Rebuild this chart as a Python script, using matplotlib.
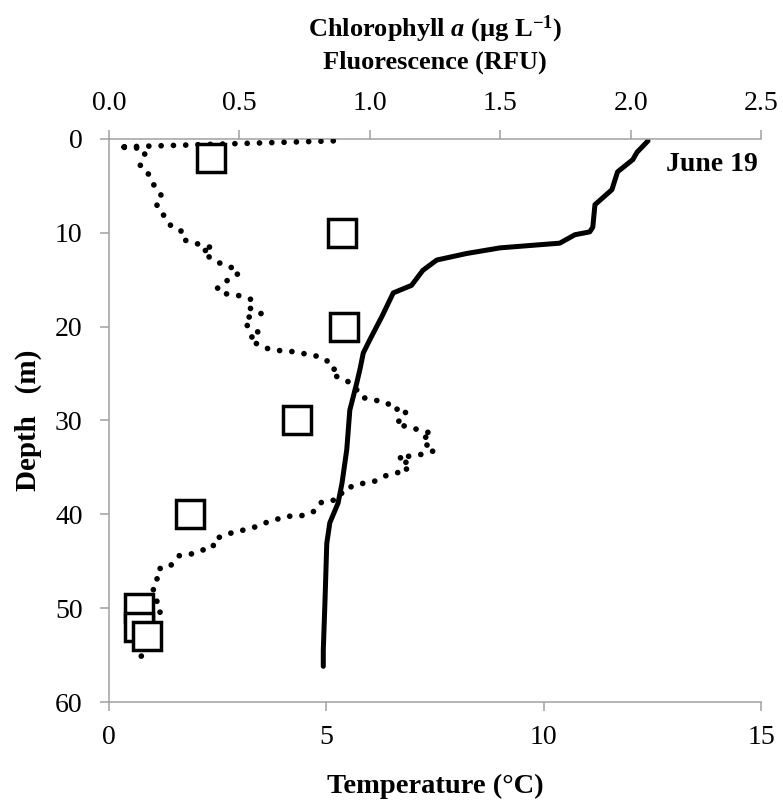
import matplotlib
matplotlib.use('Agg')
import matplotlib.pyplot as plt

plt.rcParams['font.family'] = ['Liberation Serif', 'DejaVu Serif']
plt.rcParams['mathtext.fontset'] = 'custom'
plt.rcParams['mathtext.rm'] = 'Liberation Serif:bold'
plt.rcParams['mathtext.it'] = 'Liberation Serif:bold:italic'
plt.rcParams['mathtext.bf'] = 'Liberation Serif:bold'

# temperature profile (bottom axis)
temp_depth = [0.2, 1.4, 2.2, 3.5, 5.4, 7.0, 9.4, 9.9, 10.2, 11.1, 11.6, 12.2, 12.9,
              14.0, 15.6, 16.4, 18.9, 21.4, 22.8, 24.4, 26.0, 28.9, 33.1, 36.7,
              38.8, 40.9, 43.1, 49.1, 54.5, 56.2]
temp = [12.40, 12.15, 12.05, 11.70, 11.57, 11.18, 11.13, 11.06, 10.72, 10.37, 9.00,
        8.23, 7.54, 7.22, 6.96, 6.54, 6.28, 6.00, 5.85, 5.78, 5.70, 5.54, 5.47, 5.36,
        5.27, 5.08, 5.01, 4.97, 4.93, 4.93]

# fluorescence profile (top axis)
fluor_depth = [0.2, 0.85, 1.0, 1.7, 2.8, 3.3, 4.4, 5.1, 6.0, 6.7, 7.6, 8.4, 9.3, 9.8,
               10.7, 11.0, 11.4, 11.6, 12.0, 12.7, 13.3, 13.7, 14.2, 14.8, 15.3, 16.0,
               16.5, 16.7, 17.1, 17.5, 18.3, 18.6, 19.0, 19.7, 20.3, 20.8, 21.2, 21.6,
               22.2, 22.5, 22.6, 22.7, 23.0, 23.2, 23.8, 24.4, 25.0, 25.4, 25.9, 26.4,
               27.5, 27.8, 28.0, 28.5, 28.9, 28.6, 29.4, 29.9, 30.3, 30.7, 31.0, 31.4,
               32.0, 32.5, 33.0, 33.3, 33.6, 33.8, 33.9, 34.3, 34.7, 35.3, 35.6, 35.9,
               36.5, 36.7, 37.0, 37.7, 37.8, 38.5, 38.7, 39.5, 40.0, 40.2, 40.2, 40.6,
               40.9, 41.2, 41.6, 41.8, 42.2, 42.7, 43.5, 43.8, 44.2, 44.4, 45.1, 45.6,
               45.8, 46.7, 47.3, 48.4, 50.3, 51.5, 53.5, 55.0, 56.0]
fluor = [0.86, 0.035, 0.13, 0.138, 0.12, 0.145, 0.16, 0.177, 0.20, 0.18, 0.19, 0.22,
         0.238, 0.276, 0.28, 0.32, 0.365, 0.40, 0.357, 0.39, 0.43, 0.47, 0.50, 0.477,
         0.436, 0.413, 0.45, 0.50, 0.545, 0.53, 0.548, 0.583, 0.534, 0.518, 0.56, 0.58,
         0.537, 0.553, 0.59, 0.633, 0.68, 0.72, 0.767, 0.81, 0.845, 0.867, 0.85, 0.88,
         0.92, 0.943, 0.966, 1.01, 1.058, 1.085, 1.09, 1.13, 1.14, 1.12, 1.10, 1.146,
         1.19, 1.24, 1.20, 1.21, 1.25, 1.24, 1.20, 1.155, 1.11, 1.15, 1.12, 1.146, 1.10,
         1.06, 1.016, 0.974, 0.93, 0.91, 0.874, 0.86, 0.815, 0.797, 0.765, 0.726, 0.68,
         0.636, 0.60, 0.575, 0.533, 0.49, 0.445, 0.40, 0.40, 0.36, 0.32, 0.27, 0.245,
         0.234, 0.19, 0.19, 0.17, 0.17, 0.20, 0.16, 0.13, 0.125, 0.115]

# chlorophyll a samples (top axis)
chl_depth = [2, 10, 20, 30, 40, 50, 52, 53]
chl = [0.39, 0.893, 0.90, 0.72, 0.31, 0.115, 0.115, 0.146]

temp_ticks = [0, 5, 10, 15]
top_ticks = [0.0, 0.5, 1.0, 1.5, 2.0, 2.5]
depth_ticks = [0, 10, 20, 30, 40, 50, 60]

gray = '#a0a0a0'
fs = 20

fig = plt.figure(figsize=(7.83, 8.05), dpi=100)
ax = fig.add_axes([109 / 783, 1 - 702 / 805, 652 / 783, 563 / 805])
ax.plot(temp, temp_depth, color='black', lw=3.6, solid_capstyle='round',
        solid_joinstyle='round')
ax.set_xlim(0, 15)
ax.set_ylim(60, 0)
ax.set_xticks(temp_ticks)
ax.set_yticks(depth_ticks)
ax.tick_params(axis='both', direction='out', length=6.5, width=1.1, color=gray,
               labelsize=fs, pad=10)
ax.tick_params(axis='y', pad=12.5)
for side in ['left', 'bottom', 'top']:
    ax.spines[side].set_color(gray)
    ax.spines[side].set_linewidth(1.1)
ax.spines['right'].set_visible(False)
ax.set_xlabel('Temperature (°C)', fontsize=20.5, fontweight='bold', labelpad=17)
ax.set_ylabel('Depth   (m)', fontsize=21, fontweight='bold')
ax.yaxis.set_label_coords(-0.103, 0.5)

ax2 = ax.twiny()
ax2.plot(fluor, fluor_depth, color='black', lw=4.1, linestyle=(0, (0.01, 2.15)),
         dash_capstyle='round')
ax2.plot(chl, chl_depth, linestyle='none', marker='s', markersize=20,
         markerfacecolor='white', markeredgecolor='black', markeredgewidth=2.5)
ax2.set_xlim(0, 2.5)
ax2.set_ylim(60, 0)
ax2.set_xticks(top_ticks)
ax2.set_xticklabels([f'{t:.1f}' for t in top_ticks])
ax2.tick_params(axis='x', direction='out', length=6.5, width=1.1, color=gray,
                labelsize=fs, pad=10)
for side in ['left', 'bottom', 'top', 'right']:
    ax2.spines[side].set_visible(False)

cx = (109 + 326) / 783
fig.text(cx, 1 - 29 / 805, r'Chlorophyll $a$ (µg L$^{-1}$)', ha='center', va='center',
         fontsize=19, fontweight='bold')
fig.text(cx, 1 - 62 / 805, 'Fluorescence (RFU)', ha='center', va='center',
         fontsize=19, fontweight='bold')
ax.text(0.995, 0.955, 'June 19', transform=ax.transAxes, ha='right', va='center',
        fontsize=fs, fontweight='bold')

fig.savefig('out.png', dpi=100)
